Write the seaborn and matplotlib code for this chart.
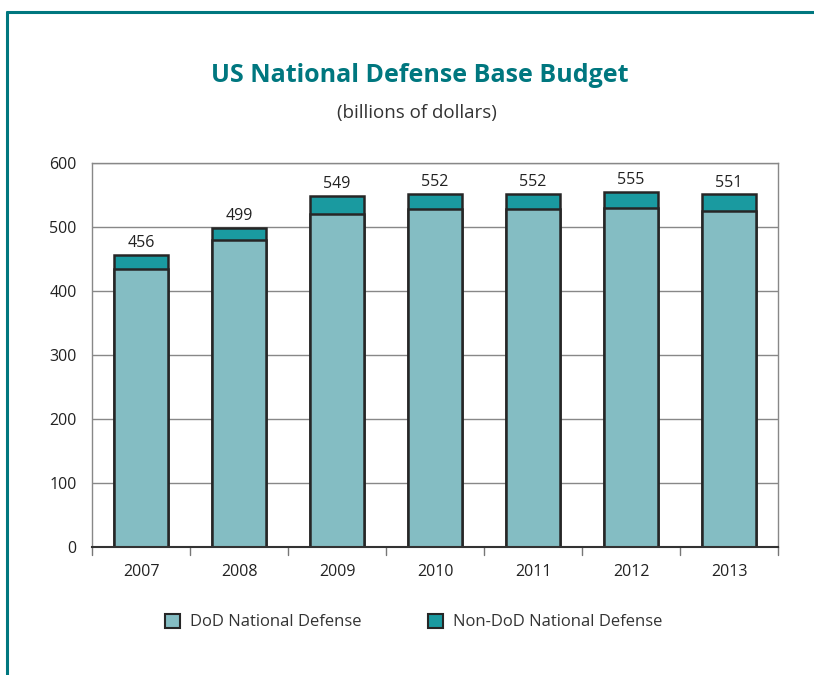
import matplotlib
matplotlib.use("Agg")
import matplotlib.pyplot as plt
import seaborn as sns
import pandas as pd
from matplotlib.patches import Patch
from matplotlib.lines import Line2D

years = ["2007", "2008", "2009", "2010", "2011", "2012", "2013"]
dod = [434, 479, 520, 528, 528, 530, 525]
total = [456, 499, 549, 552, 552, 555, 551]
series_names = ["DoD National Defense", "Non-DoD National Defense"]
yticks = [0, 100, 200, 300, 400, 500, 600]

df = pd.DataFrame({"year": years, "dod": dod, "total": total})

sns.set_style("white")
plt.rcParams["font.family"] = ["Open Sans", "DejaVu Sans"]

c_dod = "#84bdc3"
c_non = "#1a9aa0"
teal = "#00777f"
edge = "#262626"

fig = plt.figure(figsize=(8.14, 6.75), dpi=100)
ax = fig.add_axes([92/814, 1-547/675, 686/814, 384/675])

sns.barplot(data=df, x="year", y="total", color=c_non, width=0.56,
            edgecolor=edge, linewidth=1.8, saturation=1, ax=ax, zorder=3)
sns.barplot(data=df, x="year", y="dod", color=c_dod, width=0.56,
            edgecolor=edge, linewidth=1.8, saturation=1, ax=ax, zorder=4)

for i, t in enumerate(total):
    ax.text(i, t + 6, str(t), ha="center", va="bottom", fontsize=11.5,
            color="#222222", zorder=5)

ax.set_xlim(-0.5, len(years) - 0.5)
ax.set_ylim(0, 600)
ax.set_yticks(yticks)
ax.set_yticklabels([str(v) for v in yticks], fontsize=11.5, color="#222222")
ax.set_xticks(range(len(years)))
ax.set_xticklabels(years, fontsize=11.5, color="#222222")
ax.tick_params(axis="x", length=0, pad=12)
ax.tick_params(axis="y", length=5, width=1, color="#777777", pad=6, direction="out")
for b in [i + 0.5 for i in range(-1, len(years))]:
    ax.plot([b, b], [0, -0.022], transform=ax.get_xaxis_transform(),
            color="#777777", lw=1, clip_on=False)
ax.set_xlabel("")
ax.set_ylabel("")
ax.grid(axis="y", color="#888888", lw=1, zorder=0)
ax.set_axisbelow(True)
for s in ["left", "right", "top"]:
    ax.spines[s].set_color("#888888")
    ax.spines[s].set_linewidth(1)
ax.spines["bottom"].set_color("#333333")
ax.spines["bottom"].set_linewidth(1.5)
ax.spines["bottom"].set_zorder(6)

fig.text(420/814, 1-76/675, "US National Defense Base Budget", ha="center", va="center",
         fontsize=18, fontweight="bold", color=teal)
fig.text(417/814, 1-113/675, "(billions of dollars)", ha="center", va="center",
         fontsize=13.5, color="#333333")

handles = [Patch(facecolor=c_dod, edgecolor=edge, lw=1.5),
           Patch(facecolor=c_non, edgecolor=edge, lw=1.5)]
fig.legend(handles, series_names, loc="center", bbox_to_anchor=(414/814, 1-622/675),
           ncol=2, frameon=False, fontsize=12, handlelength=0.9, handleheight=0.9,
           columnspacing=4.0, handletextpad=0.6, labelcolor="#333333")

# teal frame
fig.add_artist(Line2D([7/814, 7/814], [0, 1-12/675], transform=fig.transFigure,
                      color=teal, lw=2.2))
fig.add_artist(Line2D([7/814, 1], [1-12/675, 1-12/675], transform=fig.transFigure,
                      color=teal, lw=2.2))

fig.savefig("out.png", dpi=100)
